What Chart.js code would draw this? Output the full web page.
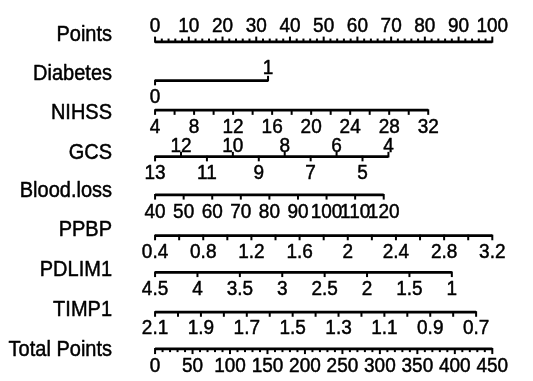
<!DOCTYPE html>
<html>
<head>
<meta charset="utf-8">
<script src="https://cdn.jsdelivr.net/npm/chart.js@4.4.0/dist/chart.umd.min.js"></script>
<style>
  html, body { margin: 0; padding: 0; background: #fff; }
  #wrap { width: 533px; height: 381px; }
</style>
</head>
<body>
<div id="wrap"><canvas id="nomogram"></canvas></div>
<script>
// nomogram rows (top to bottom)
const rowNames = ['Points', 'Diabetes', 'NIHSS', 'GCS', 'Blood.loss', 'PPBP', 'PDLIM1', 'TIMP1', 'Total Points'];

// each variable: value at left end / right end, and the points those ends score
const pointsLabels = [0, 10, 20, 30, 40, 50, 60, 70, 80, 90, 100];

const diabetesRange = [0, 1];
const diabetesPoints = [0, 33.5];
const diabetesLabels = [0, 1];

const nihssRange = [4, 32];
const nihssPoints = [0, 81];
const nihssLabels = [4, 8, 12, 16, 20, 24, 28, 32];

const gcsRange = [13, 4];
const gcsPoints = [0, 69.2];
const gcsLabelsBelow = [13, 11, 9, 7, 5];
const gcsLabelsAbove = [12, 10, 8, 6, 4];

const bloodRange = [40, 120];
const bloodPoints = [0, 67.8];
const bloodLabels = [40, 50, 60, 70, 80, 90, 100, 110, 120];

const ppbpRange = [0.4, 3.2];
const ppbpPoints = [0, 100];
const ppbpLabels = [0.4, 0.8, 1.2, 1.6, 2, 2.4, 2.8, 3.2];

const pdlimRange = [4.5, 1];
const pdlimPoints = [0, 88];
const pdlimLabels = [4.5, 4, 3.5, 3, 2.5, 2, 1.5, 1];

const timpRange = [2.1, 0.7];
const timpPoints = [0, 95.2];
const timpLabels = [2.1, 1.9, 1.7, 1.5, 1.3, 1.1, 0.9, 0.7];

const totalRange = [0, 450];
const totalPoints = [0, 100];
const totalLabels = [0, 50, 100, 150, 200, 250, 300, 350, 400, 450];

// layout (pixels, y scale maps 1:1 to canvas)
const lineY = [37, 77, 107.5, 155.5, 195, 237, 275, 316, 354];
const nameY = [35.5, 74, 113, 153, 191, 230, 270, 310, 350];
const X0 = 152.5, X100 = 497.5;
const TEXT_STRETCH = 1.08;

function mapper(range, pts) {
  return v => pts[0] + (v - range[0]) / (range[1] - range[0]) * (pts[1] - pts[0]);
}
function steps(a, b, step) {
  const out = [];
  const n = Math.round(Math.abs(b - a) / step);
  const s = b > a ? step : -step;
  for (let i = 0; i <= n; i++) out.push(+(a + i * s).toFixed(4));
  return out;
}

// row definitions: ticks {v, dir (+1 down / -1 up), len}, labels {v, pos, off}
const rows = [
  { map: v => v, ends: [0, 100],
    ticks: steps(0, 100, 2).map(v => ({ v, dir: -1, len: v % 10 === 0 ? 4.5 : 2.5 })),
    labels: pointsLabels.map(v => ({ v, pos: 'above', off: 10 })) },
  { map: mapper(diabetesRange, diabetesPoints), ends: diabetesRange,
    ticks: [{ v: 0, dir: 1, len: 4 }, { v: 1, dir: -1, len: 4 }],
    labels: [{ v: 0, pos: 'below', off: 22.5 }, { v: 1, pos: 'above', off: 7 }] },
  { map: mapper(nihssRange, nihssPoints), ends: nihssRange,
    ticks: steps(4, 32, 2).map(v => ({ v, dir: 1, len: 4 })),
    labels: nihssLabels.map(v => ({ v, pos: 'below', off: 22.5 })) },
  { map: mapper(gcsRange, gcsPoints), ends: gcsRange,
    ticks: gcsLabelsBelow.map(v => ({ v, dir: 1, len: 4 })).concat(gcsLabelsAbove.map(v => ({ v, dir: -1, len: 4 }))),
    labels: gcsLabelsBelow.map(v => ({ v, pos: 'below', off: 22.5 })).concat(gcsLabelsAbove.map(v => ({ v, pos: 'above', off: 4.5 }))) },
  { map: mapper(bloodRange, bloodPoints), ends: bloodRange,
    ticks: bloodLabels.map(v => ({ v, dir: 1, len: 4 })),
    labels: bloodLabels.map(v => ({ v, pos: 'below', off: 23 })) },
  { map: mapper(ppbpRange, ppbpPoints), ends: ppbpRange,
    ticks: steps(0.4, 3.2, 0.2).map(v => ({ v, dir: 1, len: 4 })),
    labels: ppbpLabels.map(v => ({ v, pos: 'below', off: 22.5 })) },
  { map: mapper(pdlimRange, pdlimPoints), ends: pdlimRange,
    ticks: pdlimLabels.map(v => ({ v, dir: 1, len: 4 })),
    labels: pdlimLabels.map(v => ({ v, pos: 'below', off: 22.5 })) },
  { map: mapper(timpRange, timpPoints), ends: timpRange,
    ticks: steps(2.1, 0.7, 0.1).map(v => ({ v, dir: 1, len: 4 })),
    labels: timpLabels.map(v => ({ v, pos: 'below', off: 22 })) },
  { map: mapper(totalRange, totalPoints), ends: totalRange,
    ticks: steps(0, 450, 10).map(v => ({ v, dir: 1, len: v % 50 === 0 ? 4.5 : 2.5 })),
    labels: totalLabels.map(v => ({ v, pos: 'below', off: 23 })) }
];

const datasets = [];
rows.forEach((row, i) => {
  const y = lineY[i];
  datasets.push({
    type: 'line',
    data: row.ends.map(v => ({ x: row.map(v), y })),
    borderColor: '#000', borderWidth: 2.8, pointRadius: 0, borderCapStyle: 'butt'
  });
  // tick marks: vertical 'line' points centred half a tick away from the axis line
  const groups = {};
  row.ticks.forEach(t => {
    (groups[t.len] = groups[t.len] || []).push(t);
  });
  Object.keys(groups).forEach(k => {
    const len = +k;
    datasets.push({
      type: 'scatter',
      data: groups[k].map(t => ({ x: row.map(t.v), y: y + t.dir * len / 2 })),
      pointStyle: 'line', rotation: 90, radius: len / 2 + 0.8,
      borderColor: '#000', backgroundColor: '#000', borderWidth: 2
    });
  });
});

function drawText(ctx, s, x, y) {
  ctx.save();
  ctx.translate(x, y);
  ctx.scale(1, TEXT_STRETCH);
  ctx.strokeText(s, 0, 0);
  ctx.fillText(s, 0, 0);
  ctx.restore();
}

const textPlugin = {
  id: 'nomoText',
  afterDatasetsDraw(chart) {
    const ctx = chart.ctx;
    const xs = chart.scales.x, ys = chart.scales.y;
    ctx.save();
    ctx.fillStyle = '#000';
    ctx.strokeStyle = '#000';
    ctx.lineWidth = 0.45;
    ctx.lineJoin = 'round';
    ctx.font = '20px "Liberation Sans", Arial, sans-serif';
    ctx.textAlign = 'right';
    ctx.textBaseline = 'middle';
    rowNames.forEach((name, i) => drawText(ctx, name, 112, nameY[i]));
    ctx.font = '19px "Liberation Sans", Arial, sans-serif';
    ctx.textAlign = 'center';
    ctx.textBaseline = 'alphabetic';
    rows.forEach((row, i) => {
      const ly = ys.getPixelForValue(lineY[i]);
      row.labels.forEach(l => {
        const px = xs.getPixelForValue(row.map(l.v));
        const py = l.pos === 'above' ? ly - l.off : ly + l.off;
        drawText(ctx, String(l.v), px, py);
      });
    });
    ctx.restore();
  }
};

const pxPerPoint = (X100 - X0) / 100;
new Chart(document.getElementById('nomogram'), {
  type: 'scatter',
  data: { datasets },
  options: {
    responsive: true,
    maintainAspectRatio: false,
    animation: false,
    events: [],
    layout: { padding: 0 },
    plugins: { legend: { display: false }, tooltip: { enabled: false } },
    scales: {
      x: { type: 'linear', display: false, min: -X0 / pxPerPoint, max: (533 - X0) / pxPerPoint },
      y: { type: 'linear', display: false, min: 0, max: 381, reverse: true }
    }
  },
  plugins: [textPlugin]
});
</script>
</body>
</html>
